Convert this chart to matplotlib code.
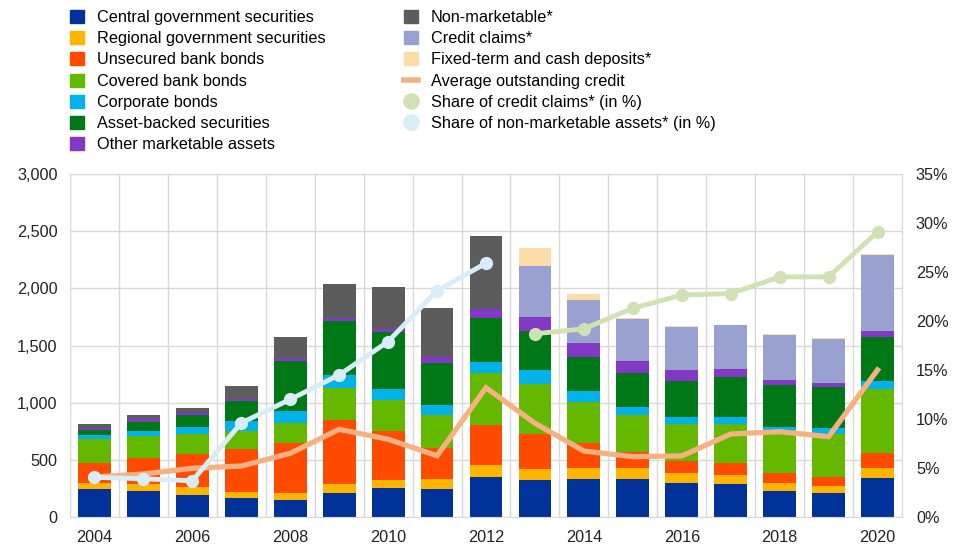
import numpy as np
import matplotlib
matplotlib.use("Agg")
import matplotlib.pyplot as plt
from matplotlib.lines import Line2D
from matplotlib.patches import Patch

plt.rcParams['font.family'] = ['Liberation Sans', 'DejaVu Sans']

years = list(range(2004, 2021))

# stacked components (EUR billions)
central_gov = [242, 225, 195, 166, 149, 213, 254, 245, 353, 324, 332, 334, 295, 292, 230, 213, 344]
regional_gov = [58, 64, 65, 53, 64, 76, 70, 87, 99, 93, 97, 93, 87, 75, 67, 58, 82]
unsecured = [170, 230, 294, 373, 437, 562, 431, 269, 356, 312, 218, 138, 111, 103, 91, 76, 131]
covered = [215, 192, 175, 163, 175, 275, 269, 289, 455, 437, 359, 323, 318, 341, 373, 377, 560]
corporate = [30, 41, 58, 85, 102, 116, 99, 93, 93, 117, 96, 72, 64, 67, 26, 57, 76]
abs_sec = [46, 82, 108, 178, 438, 473, 496, 362, 385, 347, 301, 301, 318, 350, 365, 359, 379]
other_mkt = [20, 23, 24, 14, 23, 23, 28, 58, 82, 122, 122, 102, 90, 67, 47, 35, 55]
non_mkt = [30, 35, 35, 111, 187, 298, 363, 423, 635, 0, 0, 0, 0, 0, 0, 0, 0]
credit_claims = [0, 0, 0, 0, 0, 0, 0, 0, 0, 441, 371, 370, 382, 385, 396, 385, 668]
fixed_term = [0, 0, 0, 0, 0, 0, 0, 0, 0, 158, 52, 5, 5, 3, 5, 3, 3]

avg_credit = [350, 376, 426, 446, 557, 767, 680, 536, 1131, 820, 577, 528, 534, 726, 746, 703, 1286]

share_nonmkt_years = list(range(2004, 2013))
share_nonmkt = [4.05, 3.9, 3.7, 9.6, 12.0, 14.5, 17.9, 23.1, 25.9]
share_cc_years = list(range(2013, 2021))
share_cc = [18.7, 19.2, 21.3, 22.65, 22.8, 24.5, 24.5, 29.1]

stack = [
    ("Central government securities", central_gov, "#003299"),
    ("Regional government securities", regional_gov, "#FFB400"),
    ("Unsecured bank bonds", unsecured, "#FF4B00"),
    ("Covered bank bonds", covered, "#65B800"),
    ("Corporate bonds", corporate, "#00B1EA"),
    ("Asset-backed securities", abs_sec, "#007816"),
    ("Other marketable assets", other_mkt, "#8139C6"),
    ("Non-marketable*", non_mkt, "#5C5C5C"),
    ("Credit claims*", credit_claims, "#98A1D0"),
    ("Fixed-term and cash deposits*", fixed_term, "#FDDDA7"),
]
c_avg = "#F6B183"
c_cc = "#D0E2B4"
c_nm = "#D8EDF7"
grid_c = "#D9D9D9"
fs = 11.7

fig = plt.figure(figsize=(9.55, 5.6), dpi=100)
ax = fig.add_axes([70 / 955, 1 - 517 / 560, 832 / 955, 343 / 560])

bottom = np.zeros(len(years))
for name, vals, col in stack:
    v = np.array(vals, dtype=float)
    ax.bar(years, v, 0.67, bottom=bottom, color=col, zorder=2)
    bottom += v

ax.plot(years, avg_credit, color=c_avg, lw=3.8, zorder=3, solid_joinstyle='miter')

ax.set_xlim(2003.5, 2020.5)
ax.set_ylim(0, 3000)
ax.set_yticks(np.arange(0, 3001, 500))
ax.set_yticklabels([f"{v:,}" for v in range(0, 3001, 500)])
ax.set_xticks(range(2004, 2021, 2))
ax.set_xticks(np.arange(2003.5, 2021, 1), minor=True)
ax.grid(True, which='minor', axis='x', color=grid_c, lw=1, zorder=0)
ax.grid(True, which='major', axis='y', color=grid_c, lw=1, zorder=0)
ax.set_axisbelow(True)
ax.tick_params(which='both', length=0, labelsize=fs, colors='#222222')
ax.tick_params(axis='x', pad=9)
ax.tick_params(axis='y', pad=9)
for s in ax.spines.values():
    s.set_color(grid_c)

ax2 = ax.twinx()
ax2.set_ylim(0, 35)
ax2.set_yticks(range(0, 36, 5))
ax2.set_yticklabels([f"{v}%" for v in range(0, 36, 5)])
ax2.tick_params(length=0, labelsize=fs, colors='#222222', pad=10)
for s in ax2.spines.values():
    s.set_visible(False)
ax2.plot(share_nonmkt_years, share_nonmkt, color=c_nm, lw=3.5, marker='o', ms=8.5, zorder=4)
ax2.plot(share_cc_years, share_cc, color=c_cc, lw=3.5, marker='o', ms=8.5, zorder=4)

h_left = [Patch(color=c, label=n) for n, _, c in stack[:7]]
h_right = [Patch(color=c, label=n) for n, _, c in stack[7:]]
h_right += [
    Line2D([], [], color=c_avg, lw=4, label="Average outstanding credit"),
    Line2D([], [], color=c_cc, lw=0, marker='o', ms=11, label="Share of credit claims* (in %)"),
    Line2D([], [], color=c_nm, lw=0, marker='o', ms=11, label="Share of non-marketable assets* (in %)"),
]
leg_kw = dict(loc='upper left', frameon=False, fontsize=fs, handlelength=0.86, handleheight=0.86,
              handletextpad=0.8, labelspacing=0.37, borderaxespad=0, borderpad=0)
fig.legend(handles=h_left, bbox_to_anchor=(70 / 955, 1 - 10 / 560), **leg_kw)
fig.legend(handles=h_right, bbox_to_anchor=(404 / 955, 1 - 10 / 560), **leg_kw)

fig.savefig("out.png", dpi=100)
